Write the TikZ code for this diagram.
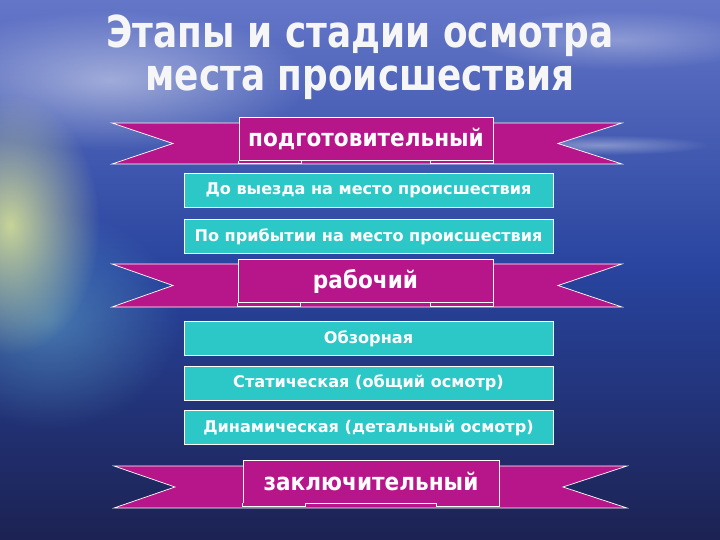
\documentclass[tikz,border=0pt]{standalone}
\usepackage{fontspec}
\setmainfont{DejaVu Sans}
\newfontfamily\titlefont[FakeStretch=0.815]{DejaVu Sans}
\newfontfamily\bannerfont[FakeStretch=0.9]{DejaVu Sans}
\usetikzlibrary{positioning,fadings}

\definecolor{skytop}{RGB}{100,118,200}
\definecolor{seamid}{RGB}{40,68,158}
\definecolor{seabot}{RGB}{28,34,82}
\definecolor{sunglow}{RGB}{225,235,150}
\definecolor{seaglint}{RGB}{110,190,215}
\definecolor{ribbonmag}{RGB}{182,22,138}
\definecolor{boxcyan}{RGB}{44,200,200}
\tikzfading[name=softglow,inner color=transparent!0,outer color=transparent!100]

\begin{document}
\begin{tikzpicture}[x=1pt,y=-1pt,
	ribbon/.style={fill=ribbonmag,draw=white,line width=0.7pt},
	panel/.style={ribbon,minimum height=43pt,inner sep=0pt,text=white,
		font=\bannerfont\fontsize{24}{26}\selectfont\bfseries},
	stagebox/.style={fill=boxcyan,draw=white,line width=0.6pt,minimum width=369pt,
		minimum height=34pt,inner sep=0pt,text=white,
		font=\fontsize{16.1}{18}\selectfont\bfseries}]
	\useasboundingbox (0,0) rectangle (720,540);
	% background
	\begin{scope}
		\clip (0,0) rectangle (720,540);
		\shade[top color=skytop,bottom color=seabot,middle color=seamid] (0,0) rectangle (720,540);
		\fill[white,opacity=0.45,path fading=softglow] (110,80) ellipse (200 and 70);
		\fill[white,opacity=0.3,path fading=softglow] (620,40) ellipse (150 and 30);
		\fill[white,opacity=0.35,path fading=softglow] (600,145) ellipse (110 and 10);
		\fill[seaglint,opacity=0.45,path fading=softglow] (50,320) ellipse (130 and 110);
		\fill[sunglow,opacity=0.85,path fading=softglow] (10,225) ellipse (90 and 130);
	\end{scope}

	\node[text=white!93!gray,font=\titlefont\fontsize{44}{43}\selectfont\bfseries,align=center]
		(title) at (360,57) {Этапы и стадии осмотра\\места происшествия};

	% ribbon tails: top/bottom/left/right
	\foreach \yt/\yb/\xl/\xr in {123/164/112/622,264/307/112/622,466/508/114/627}
		\draw[ribbon] (\xl,\yt) -- (\xr,\yt) -- ({\xr-64},{(\yt+\yb)/2}) -- (\xr,\yb)
			-- (\xl,\yb) -- ({\xl+61},{(\yt+\yb)/2}) -- cycle;

	\node[panel,minimum width=254pt] (prep) at (366,139) {подготовительный};
	\node[panel,minimum width=255pt] (work) at (365.5,281) {рабочий};
	\node[panel,minimum width=256pt] (final) at (371,481.5) {заключительный};
	\foreach \p in {prep,work,final} {
		\draw[ribbon] (\p.south west) -- ++(0,3) -- ++(63,0) -- ++(0,-3);
		\draw[ribbon] (\p.south east) -- ++(0,3) -- ++(-63,0) -- ++(0,-3);
	}

	\node[stagebox] (before) at (368.5,190) {До выезда на место происшествия};
	\node[stagebox,below=12pt of before] (arrive) {По прибытии на место происшествия};
	\node[stagebox] (survey) at (368.5,338.5) {Обзорная};
	\node[stagebox,below=10pt of survey] (static) {Статическая (общий осмотр)};
	\node[stagebox,below=10pt of static] (dynamic) {Динамическая (детальный осмотр)};
\end{tikzpicture}
\end{document}
